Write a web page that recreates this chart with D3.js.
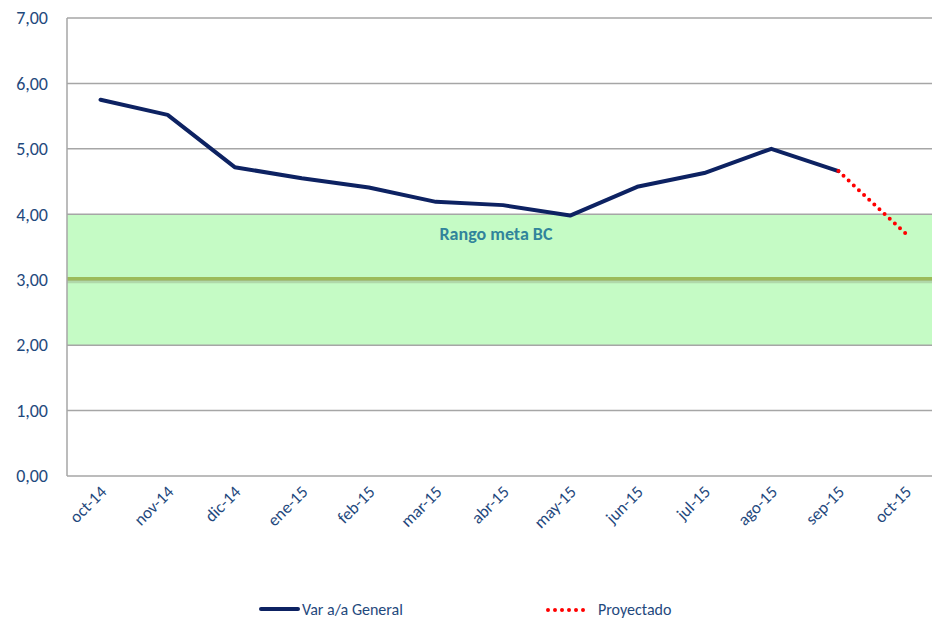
<!DOCTYPE html>
<html>
<head>
<meta charset="utf-8">
<script src="https://cdn.jsdelivr.net/npm/d3@7"></script>
<style>
  body { margin: 0; background: #fff; }
  svg { display: block; font-family: Carlito, Lato, "Liberation Sans", sans-serif; }
</style>
</head>
<body>
<svg width="932" height="618"></svg>
<script>
const months = ["oct-14","nov-14","dic-14","ene-15","feb-15","mar-15","abr-15","may-15","jun-15","jul-15","ago-15","sep-15","oct-15"]
const general = [5.75,5.52,4.72,4.55,4.41,4.19,4.14,3.98,4.42,4.63,5.00,4.66,null]
const projected = [null,null,null,null,null,null,null,null,null,null,null,4.66,3.71]
const targetBand = [2, 4]
const targetMid = 3
const yTicks = [0,1,2,3,4,5,6,7]

const navy = "#0d2262"
const textColor = "#1f497d"

const svg = d3.select('svg')
const m = {left: 67, right: -7, top: 18, bottom: 142}
const W = 932, H = 618

const x = d3.scaleBand().domain(months).range([m.left, W - m.right])
const y = d3.scaleLinear().domain([0, 7]).range([H - m.bottom, m.top])
const cx = d => x(d) + x.bandwidth() / 2

// target band
svg.append('rect')
  .attr('x', m.left)
  .attr('y', y(targetBand[1]))
  .attr('width', W - m.right - m.left)
  .attr('height', y(targetBand[0]) - y(targetBand[1]))
  .attr('fill', '#c5fbc5')

// grid
svg.append('g')
  .selectAll('line')
  .data(yTicks)
  .join('line')
  .attr('x1', m.left).attr('x2', W - m.right)
  .attr('y1', d => y(d)).attr('y2', d => y(d))
  .attr('stroke', '#a6a6a6').attr('stroke-width', 1.5)

// target line with soft shadow
svg.append('line')
  .attr('x1', m.left).attr('x2', W - m.right)
  .attr('y1', y(targetMid) + 2).attr('y2', y(targetMid) + 2)
  .attr('stroke', '#8a9a7a').attr('stroke-width', 3).attr('opacity', 0.35)
svg.append('line')
  .attr('x1', m.left).attr('x2', W - m.right)
  .attr('y1', y(targetMid) - 1).attr('y2', y(targetMid) - 1)
  .attr('stroke', '#9bbb59').attr('stroke-width', 3.5)

// left axis line
svg.append('line')
  .attr('x1', m.left).attr('x2', m.left)
  .attr('y1', y(7)).attr('y2', y(0))
  .attr('stroke', '#a6a6a6').attr('stroke-width', 1.5)

svg.append('text')
  .attr('x', 496)
  .attr('y', y(3.6))
  .attr('text-anchor', 'middle')
  .attr('fill', '#31849b')
  .style('font-size', '18px')
  .style('font-weight', 'bold')
  .text('Rango meta BC')

// y labels
svg.append('g')
  .selectAll('text')
  .data(yTicks)
  .join('text')
  .attr('x', 48)
  .attr('y', d => y(d))
  .attr('dy', '0.35em')
  .attr('text-anchor', 'end')
  .attr('fill', textColor)
  .style('font-size', '18px')
  .text(d => d3.format('.2f')(d).replace('.', ','))

// x labels
svg.append('g')
  .selectAll('text')
  .data(months)
  .join('text')
  .attr('transform', d => `translate(${cx(d) + 7},${y(0) + 17}) rotate(-45)`)
  .attr('text-anchor', 'end')
  .attr('fill', textColor)
  .style('font-size', '17px')
  .text(d => d)

const line = d3.line()
  .defined(d => d[1] != null)
  .x(d => cx(d[0]))
  .y(d => y(d[1]))

svg.append('path')
  .datum(months.map((mo, i) => [mo, general[i]]))
  .attr('d', line)
  .attr('fill', 'none')
  .attr('stroke', navy)
  .attr('stroke-width', 4)
  .attr('stroke-linejoin', 'round')
  .attr('stroke-linecap', 'round')

svg.append('path')
  .datum(months.map((mo, i) => [mo, projected[i]]))
  .attr('d', line)
  .attr('fill', 'none')
  .attr('stroke', '#ff0000')
  .attr('stroke-width', 4)
  .attr('stroke-dasharray', '0 7')
  .attr('stroke-linecap', 'round')

// legend
const lg = svg.append('g')
lg.append('line')
  .attr('x1', 261).attr('x2', 298).attr('y1', 609).attr('y2', 609)
  .attr('stroke', navy).attr('stroke-width', 4).attr('stroke-linecap', 'round')
lg.append('text')
  .attr('x', 302).attr('y', 609).attr('dy', '0.35em')
  .attr('fill', textColor).style('font-size', '16px')
  .text('Var a/a General')
lg.append('line')
  .attr('x1', 548).attr('x2', 590).attr('y1', 610).attr('y2', 610)
  .attr('stroke', '#ff0000').attr('stroke-width', 4)
  .attr('stroke-dasharray', '0 7').attr('stroke-linecap', 'round')
lg.append('text')
  .attr('x', 598).attr('y', 609).attr('dy', '0.35em')
  .attr('fill', textColor).style('font-size', '16px')
  .text('Proyectado')
</script>
</body>
</html>
